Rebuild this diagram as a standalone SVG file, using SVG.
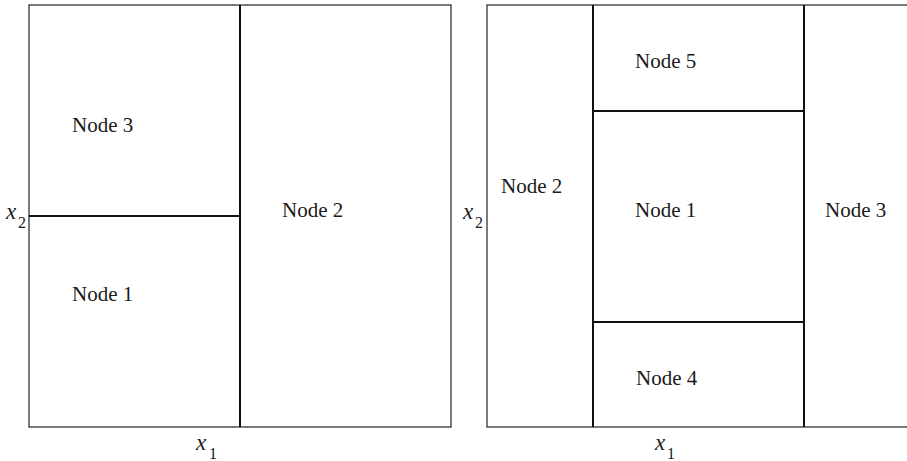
<svg xmlns="http://www.w3.org/2000/svg" width="907" height="461" viewBox="0 0 907 461">
  <style>
    .frame { fill: none; stroke: #333; stroke-width: 1.3; }
    .split { fill: none; stroke: #111; stroke-width: 2; }
  </style>

  <!-- panel frames -->
  <g id="frames">
    <rect class="frame" x="29" y="5" width="422" height="422"/>
    <rect class="frame" x="487" y="5" width="424" height="422"/>
  </g>

  <!-- partition lines -->
  <g id="connectors">
    <line class="split" x1="240" y1="5" x2="240" y2="427"/>
    <line class="split" x1="29" y1="216" x2="240" y2="216"/>
    <line class="split" x1="593" y1="5" x2="593" y2="427"/>
    <line class="split" x1="804" y1="5" x2="804" y2="427"/>
    <line class="split" x1="593" y1="111" x2="804" y2="111"/>
    <line class="split" x1="593" y1="322" x2="804" y2="322"/>
  </g>

  <!-- region labels -->
  <g font-family="Liberation Serif, DejaVu Serif, serif" font-size="21" fill="#1a1a1a">
    <g id="left-node3"><text x="72" y="132">Node 3</text></g>
    <g id="left-node1"><text x="72" y="301">Node 1</text></g>
    <g id="left-node2"><text x="282" y="217">Node 2</text></g>
    <g id="right-node2"><text x="501" y="193">Node 2</text></g>
    <g id="right-node5"><text x="635" y="68">Node 5</text></g>
    <g id="right-node1"><text x="635" y="217">Node 1</text></g>
    <g id="right-node4"><text x="636" y="385">Node 4</text></g>
    <g id="right-node3"><text x="825" y="217">Node 3</text></g>
  </g>

  <!-- axis labels -->
  <g id="axes" font-family="Liberation Serif, DejaVu Serif, serif" fill="#1a1a1a">
    <text font-size="23" font-style="italic" x="196" y="450">x</text><text font-size="16" x="209" y="459">1</text>
    <text font-size="23" font-style="italic" x="6" y="219">x</text><text font-size="16" x="18" y="228">2</text>
    <text font-size="23" font-style="italic" x="655" y="450">x</text><text font-size="16" x="667" y="459">1</text>
    <text font-size="23" font-style="italic" x="463" y="219">x</text><text font-size="16" x="475" y="228">2</text>
  </g>
</svg>
